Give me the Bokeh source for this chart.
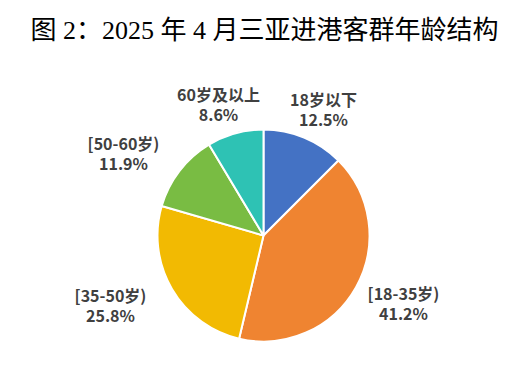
import math
from bokeh.plotting import figure
from bokeh.models import Range1d, ColumnDataSource
from bokeh.core.properties import value
from bokeh.embed import file_html
from bokeh.resources import INLINE

title_text = "图 2：2025 年 4 月三亚进港客群年龄结构"
categories = ["18岁以下", "[18-35岁)", "[35-50岁)", "[50-60岁)", "60岁及以上"]
shares = [12.5, 41.2, 25.8, 11.9, 8.6]
colors = ["#4472C4", "#EF8431", "#F2BA02", "#79BC43", "#2EC2B4"]

W, H = 503, 359
p = figure(width=W, height=H, output_backend="svg", toolbar_location=None,
           x_range=Range1d(0, 503), y_range=Range1d(16, 375),
           min_border=0, outline_line_color=None)
p.axis.visible = False
p.grid.visible = False
p.background_fill_color = "white"
p.border_fill_color = "white"

def Y(py):
    return 375 - py

cx, cy, r = 263, Y(235), 106
total = sum(shares)
starts, ends = [], []
acc = 0.0
for s in shares:
    starts.append(math.pi / 2 - acc / total * 2 * math.pi)
    acc += s
    ends.append(math.pi / 2 - acc / total * 2 * math.pi)

src = ColumnDataSource(dict(start=starts, end=ends, color=colors))
p.wedge(x=cx, y=cy, radius=r, radius_units="screen", start_angle="start", end_angle="end",
        direction="clock", fill_color="color", line_color="white", line_width=2, source=src)

# label anchor positions (pixel coords, layout only)
label_px = [(323, 98), (403, 292), (110, 294), (123, 142), (218, 93)]
lx = [a for a, b in label_px]
ly1 = [Y(b) for a, b in label_px]
ly2 = [Y(b + 20) for a, b in label_px]
pct = [f"{s:.1f}%" for s in shares]
lab_font = value("Noto Sans CJK SC")
p.text(x=lx, y=ly1, text=categories, text_font=lab_font, text_font_size="16px",
       text_font_style="bold", text_color="#404040", text_align="center", text_baseline="middle")
p.text(x=lx, y=ly2, text=pct, text_font=lab_font, text_font_size="16px",
       text_font_style="bold", text_color="#404040", text_align="center", text_baseline="middle")

p.text(x=[264], y=[Y(30)], text=[title_text], text_font=value("Liberation Serif, Noto Sans CJK SC"),
       text_font_size="26px", text_color="#000000", text_align="center", text_baseline="middle")

open("out.html", "w").write(file_html(p, INLINE))
